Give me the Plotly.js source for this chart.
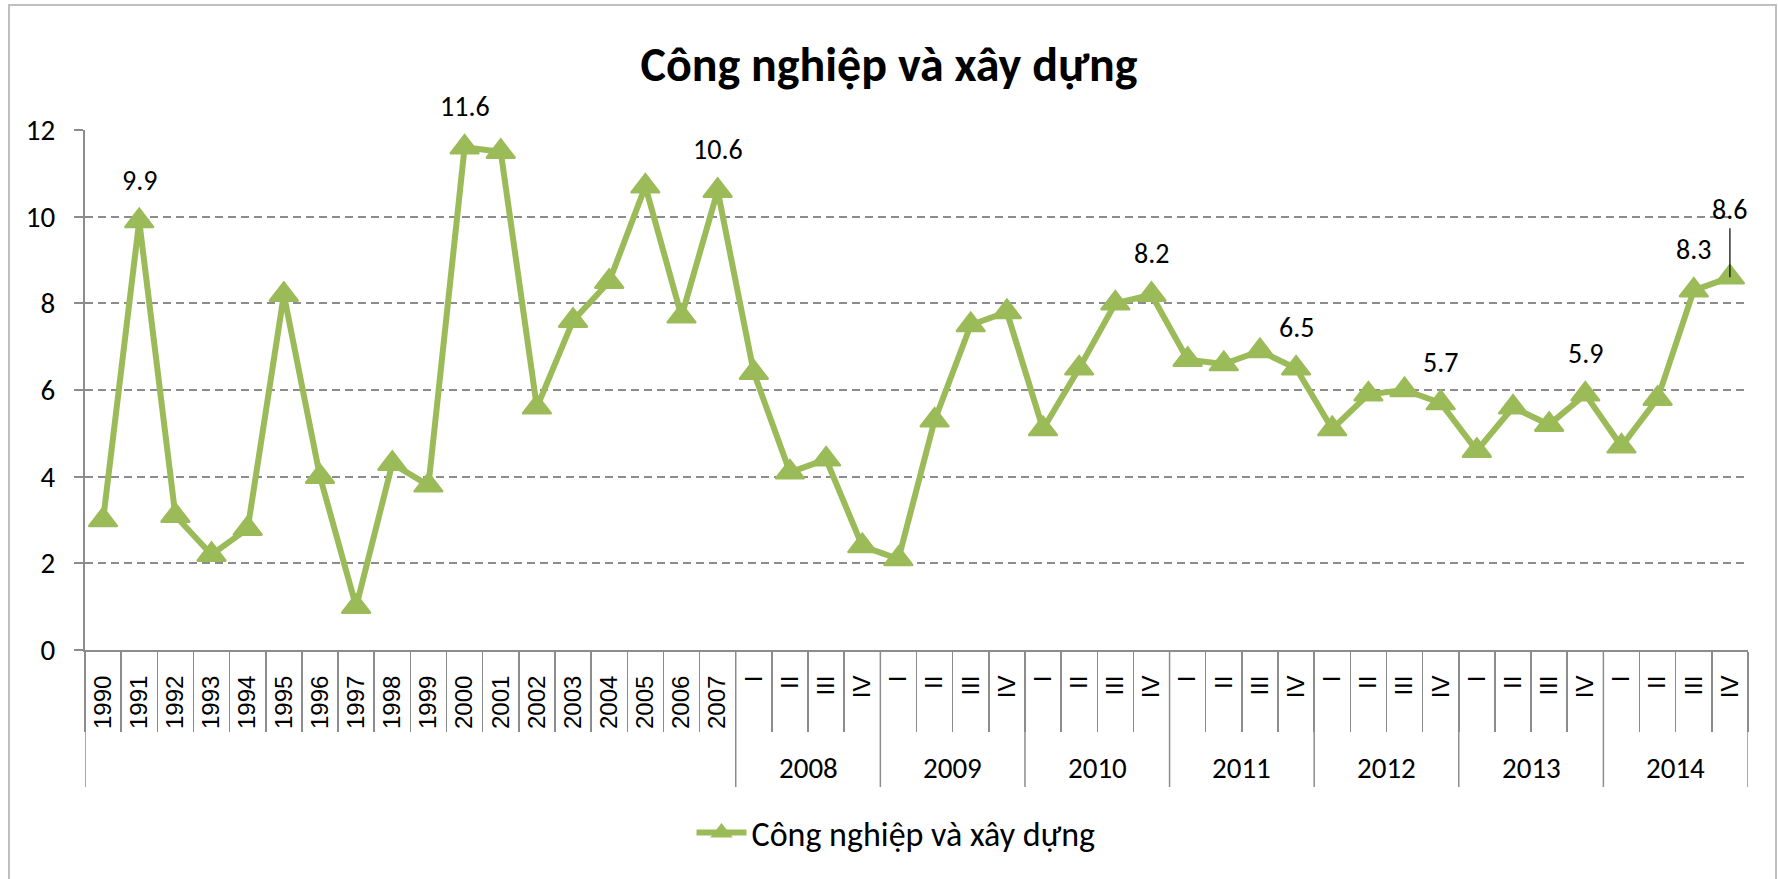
<!DOCTYPE html>
<html>
<head>
<meta charset="utf-8">
<script src="https://cdn.plot.ly/plotly-3.0.1.min.js"></script>
<style>html,body{margin:0;padding:0;background:#fff;}#chart{width:1778px;height:879px;}</style>
</head>
<body>
<div id="chart"></div>
<script>
// ---- data ----
var years = ['1990','1991','1992','1993','1994','1995','1996','1997','1998','1999','2000','2001','2002','2003','2004','2005','2006','2007'];
var yearValues = [3.0, 9.9, 3.1, 2.2, 2.8, 8.2, 4.0, 1.0, 4.3, 3.8, 11.6, 11.5, 5.6, 7.6, 8.5, 10.7, 7.7, 10.6];
var quarterYears = ['2008','2009','2010','2011','2012','2013','2014'];
var quarters = ['I','II','III','IV'];
var q2008 = [6.4, 4.1, 4.4, 2.4];
var q2009 = [2.1, 5.3, 7.5, 7.8];
var q2010 = [5.1, 6.5, 8.0, 8.2];
var q2011 = [6.7, 6.6, 6.9, 6.5];
var q2012 = [5.1, 5.9, 6.0, 5.7];
var q2013 = [4.6, 5.6, 5.2, 5.9];
var q2014 = [4.7, 5.8, 8.3, 8.6];
var labelledKeys = ['1991','2000','2007','2010 IV','2011 IV','2012 IV','2013 IV','2014 III','2014 IV'];
var leaderKeys = ['2014 IV'];
var seriesName = 'Công nghiệp và xây dựng';
var titleText = 'Công nghiệp và xây dựng';

// ---- build ----
var quarterValues = [q2008, q2009, q2010, q2011, q2012, q2013, q2014];
var tickText = [], keys = [], values = [], groups = [];
years.forEach(function (y, i) { tickText.push(y); keys.push(y); values.push(yearValues[i]); groups.push(''); });
quarterYears.forEach(function (y, gi) {
  quarters.forEach(function (q, qi) {
    tickText.push(q); keys.push(y + ' ' + q); values.push(quarterValues[gi][qi]); groups.push(y);
  });
});
var idx = keys.map(function (k, i) { return i; });
var n = idx.length;

var FONT = "Carlito, Calibri, 'Open Sans', sans-serif";
var GRAY = '#8c8c8c';
var GREEN = '#9BBB59';
var plotH = 879 - 130 - 229;

// boundaries between categories
var boundaries = [];
for (var i = 0; i <= n; i++) boundaries.push(i - 0.5);

// group dividers and labels
var shapes = [];
var annotations = [];
var groupStart = 0;
for (var i = 1; i <= n; i++) {
  if (i === n || groups[i] !== groups[i - 1]) {
    if (groups[i - 1] !== '') {
      annotations.push({
        x: (groupStart + i - 1) / 2, xref: 'x', y: -118 / plotH, yref: 'paper',
        text: groups[i - 1], showarrow: false, yanchor: 'middle',
        font: {family: FONT, size: 29, color: '#000'}
      });
    }
    groupStart = i;
  }
}
var dividerAt = [0];
for (var i = 1; i < n; i++) if (groups[i] !== groups[i - 1]) dividerAt.push(i);
dividerAt.push(n);
dividerAt.forEach(function (b) {
  shapes.push({type: 'line', xref: 'x', yref: 'paper', x0: b - 0.5, x1: b - 0.5,
    y0: 0, y1: -137 / plotH, line: {color: GRAY, width: 1.5}});
});

// chart border
shapes.push({type: 'rect', xref: 'paper', yref: 'paper',
  x0: (9 - 85) / 1663, x1: (1776 - 85) / 1663, y0: -0.6, y1: (650 - 5) / plotH,
  line: {color: '#bfbfbf', width: 2}, fillcolor: 'rgba(0,0,0,0)', layer: 'below'});

// data labels
labelledKeys.forEach(function (k) {
  var i = keys.indexOf(k);
  var lead = leaderKeys.indexOf(k) >= 0;
  var a = {
    x: idx[i], y: values[i], xref: 'x', yref: 'y',
    text: values[i].toFixed(1),
    font: {family: FONT, size: 28, color: '#000'}
  };
  if (lead) {
    a.showarrow = true; a.ax = 0; a.ay = -68; a.arrowhead = 0; a.arrowwidth = 1.2;
    a.arrowcolor = '#000'; a.standoff = 0;
  } else {
    a.showarrow = false; a.yshift = 41; a.yanchor = 'middle';
  }
  annotations.push(a);
});

var trace = {
  type: 'scatter', mode: 'lines+markers',
  x: idx, y: values, name: seriesName,
  line: {color: GREEN, width: 6},
  marker: {symbol: 'triangle-up', size: 25, color: GREEN, line: {color: GREEN, width: 2}},
  cliponaxis: false, hoverinfo: 'skip'
};

var layout = {
  width: 1778, height: 879,
  margin: {l: 85, r: 30, t: 130, b: 229},
  paper_bgcolor: '#fff', plot_bgcolor: '#fff',
  title: {text: '<b>' + titleText + '</b>', x: 0.5, xref: 'container', y: 1 - 64 / 879, yref: 'container',
    yanchor: 'middle', xanchor: 'center', font: {family: FONT, size: 48, color: '#000'}},
  xaxis: {
    type: 'linear', range: [-0.5, n - 0.5], tickmode: 'array', tickvals: idx, ticktext: tickText,
    tickangle: -90, ticks: '', tickfont: {family: "'Liberation Sans', Arial, sans-serif", size: 24, color: '#000'},
    ticklabelstandoff: 14,
    showline: true, linecolor: GRAY, linewidth: 2, showgrid: false, zeroline: false,
    minor: {tickmode: 'array', tickvals: boundaries, ticks: 'outside', ticklen: 80, tickcolor: GRAY, tickwidth: 1.5, showgrid: false},
    fixedrange: true
  },
  yaxis: {
    range: [0, 12], dtick: 2, tick0: 0, showgrid: true, gridcolor: GRAY, gridwidth: 2, griddash: '8px,5px',
    showline: true, linecolor: GRAY, linewidth: 2, ticks: 'outside', ticklen: 9, tickcolor: GRAY, tickwidth: 2,
    tickfont: {family: FONT, size: 29, color: '#000'}, ticklabelstandoff: 13, zeroline: false, fixedrange: true
  },
  showlegend: true,
  legend: {orientation: 'h', x: (896 - 85) / 1663, xanchor: 'center', y: -(833 - 650) / plotH, yanchor: 'middle',
    font: {family: FONT, size: 34, color: '#000'}, itemsizing: 'trace', itemwidth: 50, bgcolor: 'rgba(0,0,0,0)'},
  shapes: shapes,
  annotations: annotations,
  hovermode: false
};

Plotly.newPlot('chart', [trace], layout, {displayModeBar: false, staticPlot: true});
</script>
</body>
</html>
